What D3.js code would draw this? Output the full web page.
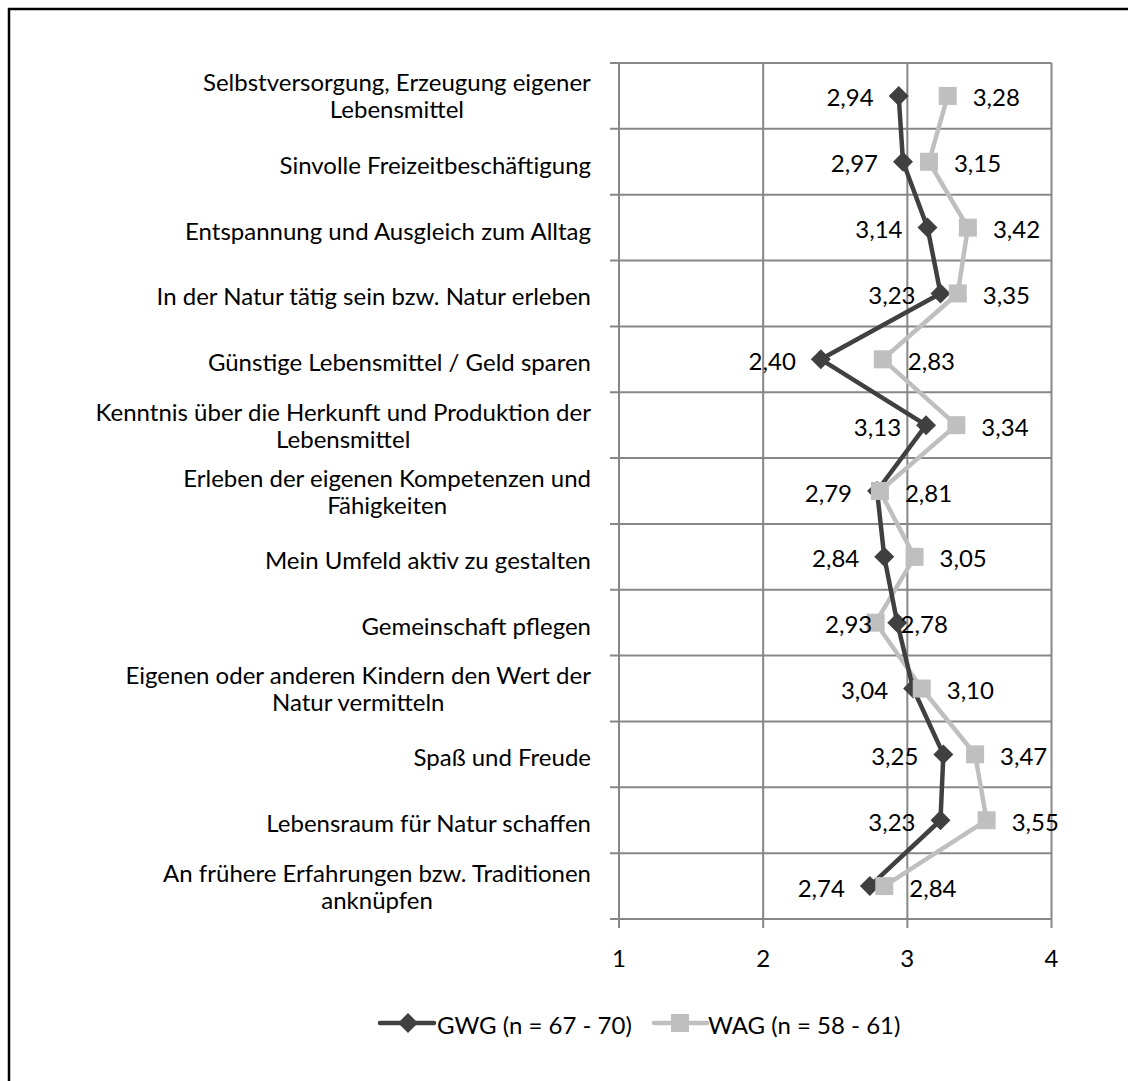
<!DOCTYPE html>
<html>
<head>
<meta charset="utf-8">
<script src="https://cdn.jsdelivr.net/npm/d3@7"></script>
<style>
  html, body { margin: 0; padding: 0; background: #fff; }
  svg { display: block; }
  text { font-family: Lato, "Open Sans", sans-serif; fill: #000; }
</style>
</head>
<body>
<svg id="chart" width="1128" height="1081"></svg>
<script>
// Motive für das Gärtnern: mittlere Zustimmung je Gruppe (Skala 1–4)
const categories = [
  ["Selbstversorgung, Erzeugung eigener", "Lebensmittel"],
  ["Sinvolle Freizeitbeschäftigung"],
  ["Entspannung und Ausgleich zum Alltag"],
  ["In der Natur tätig sein bzw. Natur erleben"],
  ["Günstige Lebensmittel / Geld sparen"],
  ["Kenntnis über die Herkunft und Produktion der", "Lebensmittel"],
  ["Erleben der eigenen Kompetenzen und", "Fähigkeiten"],
  ["Mein Umfeld aktiv zu gestalten"],
  ["Gemeinschaft pflegen"],
  ["Eigenen oder anderen Kindern den Wert der", "Natur vermitteln"],
  ["Spaß und Freude"],
  ["Lebensraum für Natur schaffen "],
  ["An frühere Erfahrungen bzw. Traditionen", "anknüpfen"]
];
const gwgValues = [2.94, 2.97, 3.14, 3.23, 2.40, 3.13, 2.79, 2.84, 2.93, 3.04, 3.25, 3.23, 2.74];
const wagValues = [3.28, 3.15, 3.42, 3.35, 2.83, 3.34, 2.81, 3.05, 2.78, 3.10, 3.47, 3.55, 2.84];
const xTicks = [1, 2, 3, 4];
const seriesNames = ["GWG (n = 67 - 70)", "WAG (n = 58 - 61)"];

const svg = d3.select("#chart");
const fmt = v => d3.format(".2f")(v).replace(".", ",");
const fs = 24;

// frame around the chart
svg.append("rect")
  .attr("x", 9).attr("y", 9).attr("width", 1300).attr("height", 1300)
  .attr("fill", "none").attr("stroke", "#000").attr("stroke-width", 2.5);

const plot = { left: 619, right: 1051.5, top: 63, bottom: 919 };
const idx = d3.range(categories.length);

const x = d3.scaleLinear().domain([1, 4]).range([plot.left, plot.right]);
const y = d3.scaleBand().domain(idx).range([plot.top, plot.bottom]).padding(0);
const yc = i => y(i) + y.bandwidth() / 2;

const gridColor = "#878787";
const g = svg.append("g");

// horizontal grid lines at band boundaries, with short ticks left of the axis
const bounds = idx.map(i => y(i)).concat([plot.bottom]);
g.selectAll("line.hgrid").data(bounds).join("line")
  .attr("x1", plot.left - 9).attr("x2", plot.right)
  .attr("y1", d => d).attr("y2", d => d)
  .attr("stroke", gridColor).attr("stroke-width", 2);

// vertical grid lines and bottom ticks
g.selectAll("line.vgrid").data(xTicks).join("line")
  .attr("x1", d => x(d)).attr("x2", d => x(d))
  .attr("y1", plot.top).attr("y2", plot.bottom + 9)
  .attr("stroke", gridColor).attr("stroke-width", 2);

// x tick labels
g.selectAll("text.xt").data(xTicks).join("text")
  .attr("x", d => x(d)).attr("y", 957)
  .attr("text-anchor", "middle").attr("dominant-baseline", "central")
  .attr("font-size", fs).text(d => d);

// category labels (multi-line, centered within a right-aligned block)
const catG = svg.append("g");
const lineH = 27;
const labelRight = 591;
idx.forEach(i => {
  const lines = categories[i];
  const shift = lines.length > 1 ? -1 : 2;
  const t = catG.append("text")
    .attr("font-size", fs)
    .attr("dominant-baseline", "central")
    .attr("text-anchor", "middle");
  lines.forEach((s, k) => {
    t.append("tspan").attr("x", 0)
      .attr("y", yc(i) + shift + (k - (lines.length - 1) / 2) * lineH)
      .text(s);
  });
  const w = t.node().getBBox().width;
  t.attr("transform", `translate(${labelRight - w / 2},0)`);
});

const line = d3.line().x(d => x(d.v)).y(d => yc(d.i));
const gwg = gwgValues.map((v, i) => ({ v, i }));
const wag = wagValues.map((v, i) => ({ v, i }));

const darkC = "#404040", lightC = "#bfbfbf";
const diamond = (s) => `M0,${-s}L${s},0L0,${s}L${-s},0Z`;

// WAG series (light, squares)
svg.append("path").datum(wag).attr("d", line)
  .attr("fill", "none").attr("stroke", lightC).attr("stroke-width", 4.5)
  .attr("stroke-linejoin", "round");
// GWG series (dark, diamonds)
svg.append("path").datum(gwg).attr("d", line)
  .attr("fill", "none").attr("stroke", darkC).attr("stroke-width", 4.5)
  .attr("stroke-linejoin", "round");

svg.selectAll("path.gm").data(gwg).join("path")
  .attr("transform", d => `translate(${x(d.v)},${yc(d.i)})`)
  .attr("d", diamond(10)).attr("fill", darkC);
svg.selectAll("rect.wm").data(wag).join("rect")
  .attr("x", d => x(d.v) - 9).attr("y", d => yc(d.i) - 9)
  .attr("width", 18).attr("height", 18).attr("fill", lightC);

// value labels: GWG left of its marker, WAG right of its marker
svg.selectAll("text.gl").data(gwg).join("text")
  .attr("x", d => x(d.v) - 25).attr("y", d => yc(d.i) + 1)
  .attr("text-anchor", "end").attr("dominant-baseline", "central")
  .attr("font-size", fs).text(d => fmt(d.v));
svg.selectAll("text.wl").data(wag).join("text")
  .attr("x", d => x(d.v) + 25).attr("y", d => yc(d.i) + 1)
  .attr("text-anchor", "start").attr("dominant-baseline", "central")
  .attr("font-size", fs).text(d => fmt(d.v));

// legend
const ly = 1023;
const lg = svg.append("g");
lg.append("line").attr("x1", 380).attr("x2", 434).attr("y1", ly).attr("y2", ly)
  .attr("stroke", darkC).attr("stroke-width", 4.5).attr("stroke-linecap", "round");
lg.append("path").attr("transform", `translate(408,${ly})`).attr("d", diamond(10)).attr("fill", darkC);
lg.append("text").attr("x", 437).attr("y", ly + 1).attr("dominant-baseline", "central")
  .attr("font-size", fs).text(seriesNames[0]);
lg.append("line").attr("x1", 654).attr("x2", 707).attr("y1", ly).attr("y2", ly)
  .attr("stroke", lightC).attr("stroke-width", 4.5).attr("stroke-linecap", "round");
lg.append("rect").attr("x", 671).attr("y", ly - 9).attr("width", 18).attr("height", 18).attr("fill", lightC);
lg.append("text").attr("x", 708).attr("y", ly + 1).attr("dominant-baseline", "central")
  .attr("font-size", fs).text(seriesNames[1]);
</script>
</body>
</html>
